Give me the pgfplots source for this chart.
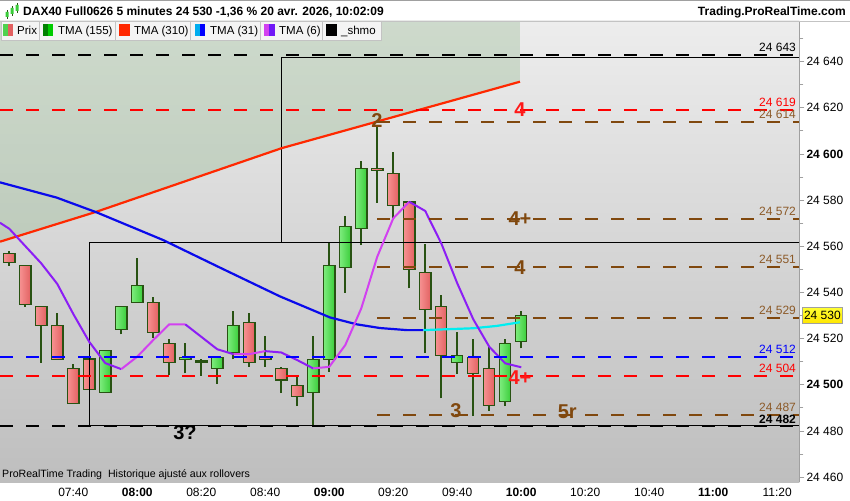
\documentclass[border=0pt]{standalone}
\usepackage{pgfplots}
\pgfplotsset{compat=1.18}
\usepackage{pgfplotstable}
\usepackage{fontspec}
\setmainfont{Liberation Sans}

\definecolor{wick}{RGB}{40,82,18}
\definecolor{upL}{RGB}{125,236,125}
\definecolor{upR}{RGB}{58,205,58}
\definecolor{dnL}{RGB}{246,145,145}
\definecolor{dnR}{RGB}{226,96,96}
\definecolor{tmared}{RGB}{255,40,0}
\definecolor{tmablue}{RGB}{10,10,235}
\definecolor{tmacyan}{RGB}{0,238,240}
\definecolor{tmaviolet}{RGB}{140,30,245}
\definecolor{tmamag}{RGB}{210,65,240}
\definecolor{lvbrown}{RGB}{128,72,14}
\definecolor{lbbrown}{RGB}{140,90,40}
\definecolor{bgtop}{RGB}{237,237,237}
\definecolor{bgbot}{RGB}{190,190,190}
\definecolor{zone}{RGB}{140,180,135}
\definecolor{axgray}{RGB}{160,160,160}
\definecolor{boxbg}{RGB}{244,244,244}
\definecolor{boxln}{RGB}{195,195,195}

\newcommand\fs[1]{\fontsize{#1}{#1}\selectfont}

% 5 minute candles, time in minutes since midnight
\pgfplotstableread{
t   o       h       l       c
440 24557.0 24558.0 24551.6 24553.1
445 24551.8 24552.0 24533.8 24534.9
450 24534.0 24534.2 24509.6 24525.6
455 24525.8 24531.1 24510.8 24511.0
460 24507.1 24509.0 24491.8 24492.0
465 24511.2 24511.4 24497.8 24498.0
485 24535.7 24537.9 24520.4 24522.7
490 24518.0 24519.8 24504.2 24509.7
500 24510.3 24511.2 24504.0 24509.8
515 24527.1 24531.1 24507.8 24509.7
520 24512.2 24521.0 24507.8 24511.0
525 24507.1 24507.6 24496.4 24502.1
530 24499.8 24503.5 24490.8 24494.8
555 24593.8 24611.6 24578.9 24592.8
560 24591.6 24600.7 24571.7 24577.6
565 24579.2 24579.5 24541.8 24550.0
570 24548.7 24560.9 24513.9 24532.7
575 24534.0 24538.9 24494.1 24512.6
585 24511.7 24519.7 24486.5 24505.0
590 24507.1 24516.5 24488.8 24490.9
}\down

\pgfplotstableread{
t   o       h       l       c
470 24496.7 24515.0 24496.5 24514.9
475 24523.9 24534.2 24521.9 24534.0
480 24535.7 24554.9 24535.5 24543.1
495 24511.0 24518.0 24505.0 24512.0
505 24507.1 24512.2 24500.4 24512.0
510 24514.1 24532.0 24511.0 24525.8
535 24496.6 24521.1 24482.1 24511.0
540 24511.0 24561.6 24505.7 24551.8
545 24550.9 24573.1 24539.9 24568.7
550 24567.6 24597.0 24560.6 24593.8
580 24509.7 24522.9 24504.7 24512.8
595 24492.7 24519.7 24490.8 24518.0
600 24518.8 24532.0 24515.8 24530.1
}\up

\begin{document}
\begin{tikzpicture}[x=1pt,y=1pt]
\useasboundingbox (0,0) rectangle (850,500);
\fill[white] (0,0) rectangle (850,500);

\begin{axis}[
  at={(0pt,18pt)}, anchor=south west,
  scale only axis, width=799.3pt, height=461pt,
  xmin=437.1, xmax=686.9, ymin=24457.9, ymax=24657.6,
  clip mode=individual, no markers,
  scaled y ticks=false, scaled x ticks=false,
  axis background/.style={top color=bgtop, bottom color=bgbot},
  axis x line*=bottom, axis y line*=right,
  x axis line style={draw=none},
  y axis line style={draw=axgray, line width=0.8pt},
  xtick={460,480,500,520,540,560,580,600,620,640,660,680},
  xticklabels={07:40,\textbf{08:00},08:20,08:40,\textbf{09:00},09:20,09:40,\textbf{10:00},10:20,10:40,\textbf{11:00},11:20},
  x tick style={draw=none},
  xticklabel style={font=\fs{12}, inner sep=0pt, yshift=-1pt},
  ytick={24460,24480,24500,24520,24540,24560,24580,24600,24620,24640},
  yticklabels={24 460,24 480,\textbf{24 500},24 520,24 540,24 560,24 580,\textbf{24 600},24 620,24 640},
  minor ytick={24470,24490,24510,24530,24550,24570,24590,24610,24630,24650},
  y tick style={draw=axgray, line width=0.8pt},
  tick align=outside, major tick length=5pt, minor tick length=4pt,
  yticklabel style={font=\fs{12}, anchor=west, inner sep=0pt, xshift=2pt},
  wickln/.style={draw=wick, line width=2pt, forget plot},
  dnbody/.style={draw=wick, line width=1.1pt, left color=dnL, right color=dnR, forget plot},
  upbody/.style={draw=wick, line width=1.1pt, left color=upL, right color=upR, forget plot},
  lvl/.style={line width=2pt, dash pattern=on 13pt off 13pt},
]

% green zone above TMA 310
\addplot[draw=none, fill=zone, fill opacity=0.32] coordinates {
 (437.1,24562.0) (467.3,24575.0) (525.1,24602.5) (562.1,24616.8) (599.6,24631.3)
 (599.6,24657.6) (437.1,24657.6)} -- cycle;

% candles
\pgfplotsinvokeforeach{0,...,19}{
  \pgfplotstablegetelem{#1}{t}\of\down\let\T\pgfplotsretval
  \pgfplotstablegetelem{#1}{o}\of\down\let\O\pgfplotsretval
  \pgfplotstablegetelem{#1}{h}\of\down\let\H\pgfplotsretval
  \pgfplotstablegetelem{#1}{l}\of\down\let\L\pgfplotsretval
  \pgfplotstablegetelem{#1}{c}\of\down\let\C\pgfplotsretval
  \pgfmathsetmacro\Tl{\T-1.78}\pgfmathsetmacro\Tr{\T+1.78}
  \edef\temp{\noexpand\addplot[wickln] coordinates {(\T,\L) (\T,\H)};
    \noexpand\addplot[dnbody] coordinates {(\Tl,\O) (\Tr,\O) (\Tr,\C) (\Tl,\C)} -- cycle;}
  \temp
}
\pgfplotsinvokeforeach{0,...,12}{
  \pgfplotstablegetelem{#1}{t}\of\up\let\T\pgfplotsretval
  \pgfplotstablegetelem{#1}{o}\of\up\let\O\pgfplotsretval
  \pgfplotstablegetelem{#1}{h}\of\up\let\H\pgfplotsretval
  \pgfplotstablegetelem{#1}{l}\of\up\let\L\pgfplotsretval
  \pgfplotstablegetelem{#1}{c}\of\up\let\C\pgfplotsretval
  \pgfmathsetmacro\Tl{\T-1.78}\pgfmathsetmacro\Tr{\T+1.78}
  \edef\temp{\noexpand\addplot[wickln] coordinates {(\T,\L) (\T,\H)};
    \noexpand\addplot[upbody] coordinates {(\Tl,\O) (\Tr,\O) (\Tr,\C) (\Tl,\C)} -- cycle;}
  \temp
}

% range boxes
\addplot[black, line width=1pt] coordinates {(525.1,24561.7) (525.1,24641.9) (686.9,24641.9)};
\addplot[black, line width=1pt] coordinates {(686.9,24561.7) (465.0,24561.7) (465.0,24482.3) (686.9,24482.3)};

% TMA 310
\addplot[tmared, line width=2.2pt] coordinates {
 (437.1,24562.0) (467.3,24575.0) (525.1,24602.5) (562.1,24616.8) (599.6,24631.3)};
% TMA 31
\addplot[tmablue, line width=2.2pt] coordinates {
 (437.1,24587.7) (454.8,24581.1) (467.3,24574.7) (488.1,24562.7) (505.8,24550.8)
 (524.6,24538.3) (540.2,24529.2) (548.6,24526.2) (555.8,24524.6) (564.2,24523.7) (569.4,24523.7)};
\addplot[tmacyan, line width=2.2pt] coordinates {
 (569.4,24523.7) (585,24524.5) (592.3,24525.5) (599.6,24527.1)};
% TMA 6
\addplot[tmaviolet, line width=2pt] coordinates {
 (437.1,24570.2) (440,24567.6) (445,24560.1) (450,24552.6) (455,24543.7) (460,24530.7)
 (465,24518.6) (470,24509.4) (475,24506.8)};
\addplot[tmamag, line width=2pt] coordinates {
 (475,24506.8) (480,24512.2) (485,24519.4) (490,24526.2) (495,24526.2)};
\addplot[tmaviolet, line width=2pt] coordinates {
 (495,24526.2) (500,24520.8) (505,24515.4) (510,24513.3)};
\addplot[tmamag, line width=2pt] coordinates {
 (510,24513.3) (515,24513.3) (520,24514.6)};
\addplot[tmaviolet, line width=2pt] coordinates {
 (520,24514.6) (525,24514.0) (530,24510.7) (535,24507.1)};
\addplot[tmamag, line width=2pt] coordinates {
 (535,24507.1) (540,24507.8) (545,24517.2) (550,24533.1) (555,24555.5) (560,24572.1) (565,24579.3)};
\addplot[tmaviolet, line width=2pt] coordinates {
 (565,24579.3) (570,24575.3) (575,24561.3) (580,24544.0) (585,24528.4) (590,24516.5)
 (595,24509.3) (600,24507.6)};

% levels
\addplot[lvl, black]   coordinates {(437.1,24643) (686.9,24643)};
\addplot[lvl, red]     coordinates {(437.1,24619) (686.9,24619)};
\addplot[lvl, lvbrown] coordinates {(555,24614) (686.9,24614)};
\addplot[lvl, lvbrown] coordinates {(555,24572) (686.9,24572)};
\addplot[lvl, lvbrown] coordinates {(555,24551) (686.9,24551)};
\addplot[lvl, lvbrown] coordinates {(555,24529) (686.9,24529)};
\addplot[lvl, blue]    coordinates {(437.1,24512) (686.9,24512)};
\addplot[lvl, red]     coordinates {(437.1,24504) (686.9,24504)};
\addplot[lvl, lvbrown] coordinates {(555,24487) (686.9,24487)};
\addplot[lvl, black]   coordinates {(437.1,24482) (686.9,24482)};

% level values
\begin{scope}[every node/.style={anchor=south east, inner sep=1pt, yshift=2pt, font=\fs{12}}]
\node[black]   at (axis cs:686.2,24643) {24 643};
\node[red]     at (axis cs:686.2,24619) {24 619};
\node[lbbrown] at (axis cs:686.2,24614) {24 614};
\node[lbbrown] at (axis cs:686.2,24572) {24 572};
\node[lbbrown] at (axis cs:686.2,24551) {24 551};
\node[lbbrown] at (axis cs:686.2,24529) {24 529};
\node[blue]    at (axis cs:686.2,24512) {24 512};
\node[red]     at (axis cs:686.2,24504) {24 504};
\node[lbbrown] at (axis cs:686.2,24487) {24 487};
\node[black, font=\bfseries\fs{12}] at (axis cs:686.2,24482) {24 482};
\end{scope}

% wave labels
\begin{scope}[every node/.style={inner sep=0pt, font=\bfseries\fs{20}}]
\node[red!90!white]   at (axis cs:599.6,24619) {4};
\node[lvbrown] at (axis cs:554.9,24614.5) {2};
\node[lvbrown] at (axis cs:599.6,24572.2) {4+};
\node[lvbrown] at (axis cs:599.6,24550.8) {4};
\node[red!90!white]   at (axis cs:599.6,24503) {4+};
\node[lvbrown] at (axis cs:579.6,24489) {3};
\node[lvbrown] at (axis cs:614.4,24488.3) {5r};
\node[black]   at (axis cs:494.9,24479.1) {3?};
\end{scope}

% last price
\node[anchor=west, xshift=3pt, inner sep=1.5pt, minimum height=16pt, draw=axgray,
      top color=yellow!80!white, bottom color=orange!20!yellow, font=\fs{12}]
      at (axis cs:686.9,24530) {24 530};
\end{axis}

% header
\draw[axgray, line width=1pt] (0,499.5) -- (850,499.5);
\draw[boxln, line width=1pt] (0,478.8) -- (850,478.8);
\node[anchor=base west, inner sep=0pt, font=\bfseries\fs{12}] at (23,484.7)
  {DAX40 Full0626 5 minutes 24 530 -1,36 \% 20 avr. 2026, 10:02:09};
\node[anchor=base east, inner sep=0pt, font=\bfseries\fs{12}] at (846,484.7)
  {Trading.ProRealTime.com};
% icon
\draw[wick, line width=0.8pt] (7,481) -- (7,490) (12,484) -- (12,494) (17,487) -- (17,497);
\fill[upR] (5.5,483) rectangle (8.5,488) (10.5,486) rectangle (13.5,492) (15.5,489) rectangle (18.5,495);

% legend row
\foreach \a/\b in {1/39.5, 39.5/115.7, 115.7/190.7, 190.7/260, 260/322.7, 322.7/381.7}
  \filldraw[fill=boxbg, draw=boxln, line width=0.8pt] (\a,460) rectangle (\b,478.5);
\fill[upR!90!white] (3,463.5) rectangle (8,475.5);   \fill[dnR] (8,463.5) rectangle (13,475.5);
\fill[green!50!black] (43,463.5) rectangle (48,475.5); \fill[green!80!black] (48,463.5) rectangle (53,475.5);
\fill[tmared] (119,463.5) rectangle (130,475.5);
\fill[cyan] (195,463.5) rectangle (200,475.5); \fill[blue] (200,463.5) rectangle (205,475.5);
\fill[tmamag] (264,463.5) rectangle (269,475.5); \fill[tmaviolet!80!blue] (269,463.5) rectangle (275,475.5);
\fill[black] (326,463.5) rectangle (337,475.5);
\begin{scope}[every node/.style={anchor=base west, inner sep=0pt, font=\fs{11.5}}]
\node at (17,465) {Prix};
\node at (58,465) {TMA (155)};
\node at (134,465) {TMA (310)};
\node at (210,465) {TMA (31)};
\node at (279,465) {TMA (6)};
\node at (341,465) {\_shmo};
\end{scope}

% footer
\node[anchor=base west, inner sep=0pt, font=\fs{10.6}] at (2,22.5)
  {ProRealTime Trading\ \ Historique ajusté aux rollovers};
\end{tikzpicture}
\end{document}
